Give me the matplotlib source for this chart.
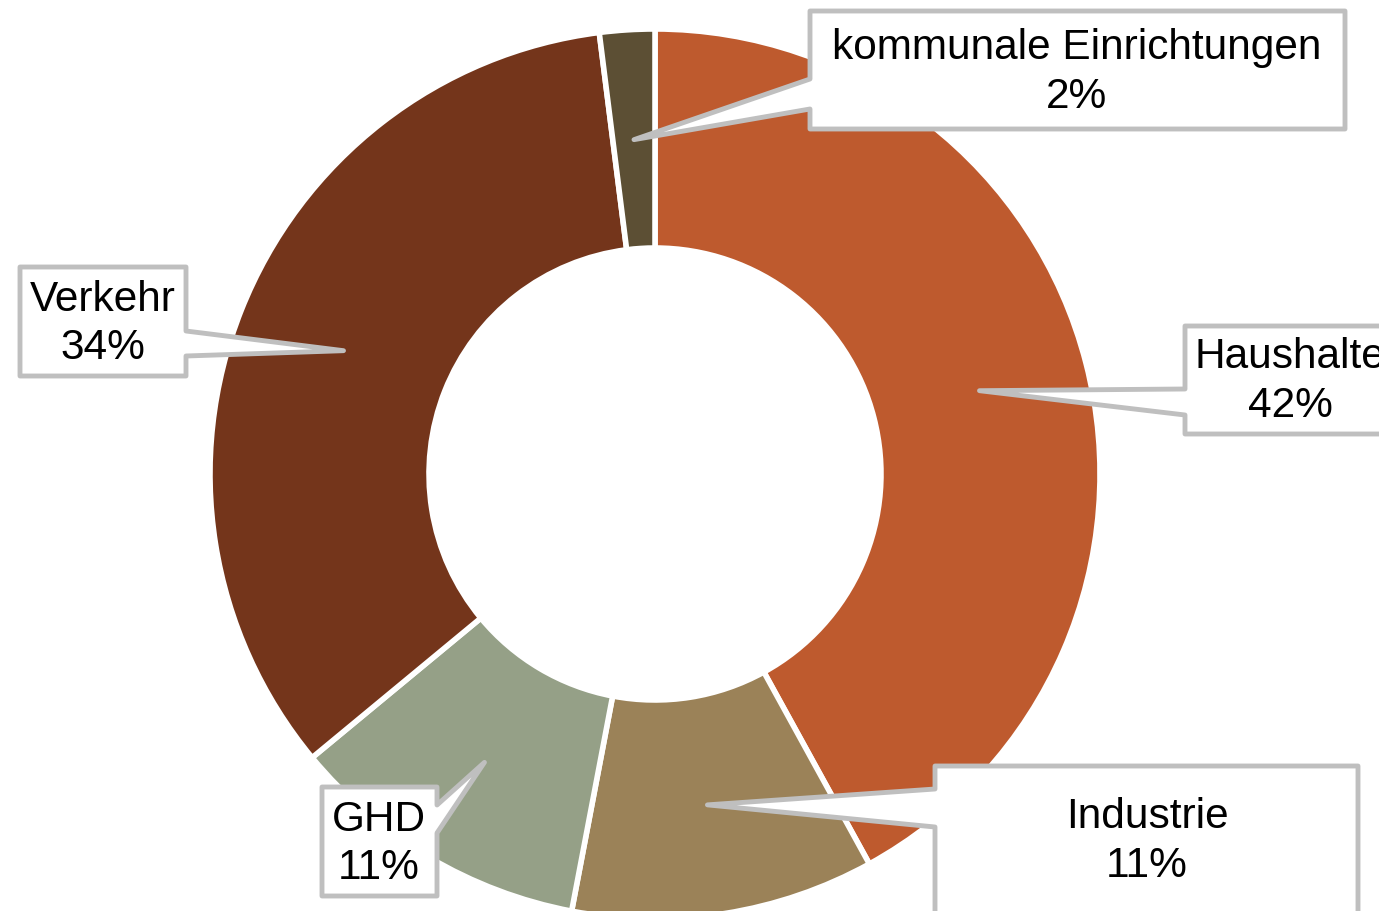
import numpy as np
import matplotlib.pyplot as plt
from matplotlib.patches import Polygon

labels = ['Haushalte', 'Industrie', 'GHD', 'Verkehr', 'kommunale Einrichtungen']
shares = [42, 11, 11, 34, 2]
colors = ['#BE5A2E', '#9B8258', '#95A087', '#74351B', '#5C4F34']

W, H = 1379, 912
cx, cy, r_out, r_in = 655, 475, 445, 226
r_tip = 335

# callout layout in pixels (y pointing down): box, pointer side, notch y-range, text centre x, line y's
callouts = {
    'Haushalte': ((1185, 327, 1400, 435), 'left', (390, 416), 1290, (357, 406)),
    'Industrie': ((935, 767, 1358, 940), 'left', (790, 828), 1147, (817, 866)),
    'GHD': ((322, 788, 437, 897), 'right', (806, 834), 379, (820, 868)),
    'Verkehr': ((20, 268, 186, 377), 'right', (332, 357), 103, (300, 348)),
    'kommunale Einrichtungen': ((810, 12, 1345, 130), 'left', (80, 110), 1077, (48, 97)),
}

plt.rcParams['font.family'] = ['Liberation Sans', 'DejaVu Sans']

fig = plt.figure(figsize=(W / 100, H / 100), dpi=100)
ax = fig.add_axes([0, 0, 1, 1])

wedges, _ = ax.pie(shares, colors=colors, startangle=90, counterclock=False,
                   center=(cx, H - cy), radius=r_out,
                   wedgeprops=dict(width=r_out - r_in, edgecolor='white', linewidth=4))

for w, lab, val in zip(wedges, labels, shares):
    (x0, y0, x1, y1), side, (n1, n2), tx, (ly1, ly2) = callouts[lab]
    ang = np.deg2rad((w.theta1 + w.theta2) / 2)
    tip = (cx + r_tip * np.cos(ang), H - cy + r_tip * np.sin(ang))
    if side == 'left':
        pts = [(x0, y0), (x1, y0), (x1, y1), (x0, y1), (x0, n2), None, (x0, n1)]
    else:
        pts = [(x0, y0), (x1, y0), (x1, n1), None, (x1, n2), (x1, y1), (x0, y1)]
    verts = [tip if p is None else (p[0], H - p[1]) for p in pts]
    ax.add_patch(Polygon(verts, closed=True, facecolor='white', edgecolor='#BFBFBF',
                         linewidth=3.5, joinstyle='round', zorder=5))
    ax.text(tx, H - ly1, lab, ha='center', va='center', fontsize=30.5, zorder=6)
    ax.text(tx, H - ly2, f'{val}%', ha='center', va='center', fontsize=30.5, zorder=6)

ax.set_xlim(0, W)
ax.set_ylim(0, H)
ax.set_aspect('equal')
ax.axis('off')

fig.savefig('out.png', dpi=100)
